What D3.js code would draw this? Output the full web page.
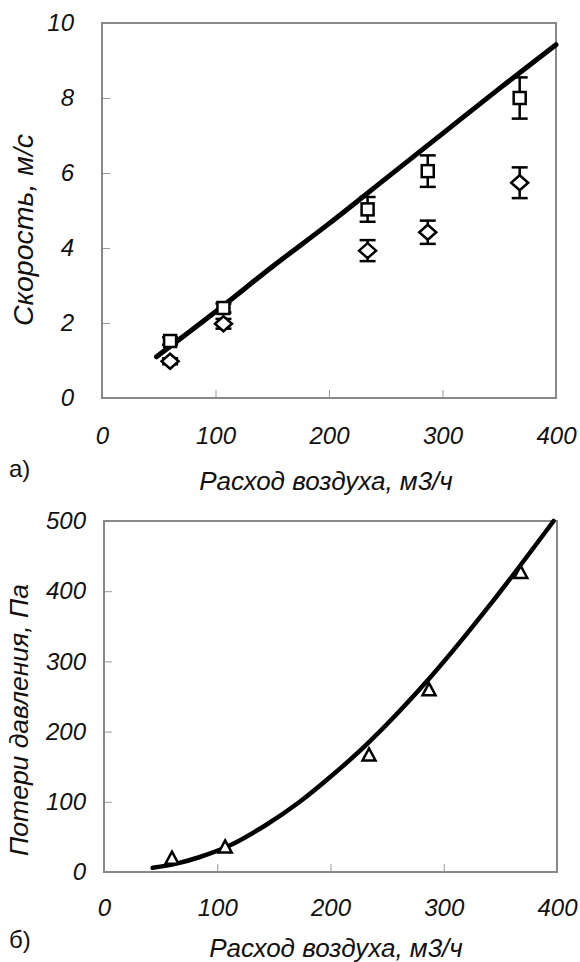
<!DOCTYPE html>
<html>
<head>
<meta charset="utf-8">
<script src="https://cdn.jsdelivr.net/npm/d3@7"></script>
<style>
  body { margin: 0; background: #fff; }
  text { font-family: "Liberation Sans", Arial, sans-serif; }
</style>
</head>
<body>
<div id="chart"></div>
<script>
// measured points (same air flow for both panels)
var flow = [60, 107, 234, 287, 368];

// panel a: speed
var speedSquare = [1.52, 2.4, 5.03, 6.05, 8.0];
var speedSquareErr = [0.1, 0.12, 0.33, 0.42, 0.55];
var speedDiamond = [0.98, 1.98, 3.93, 4.42, 5.74];
var speedDiamondErr = [0.08, 0.13, 0.28, 0.31, 0.41];
var speedLineX = [48, 100, 150, 200, 250, 300, 350, 400];
var speedLineY = [1.1, 2.3, 3.5, 4.65, 5.85, 7.05, 8.25, 9.42];

// panel b: pressure loss
var pressure = [19, 35, 166, 259, 426];
var pressLineX = [43, 64, 84, 110, 143, 172, 201, 234, 289, 342, 397];
var pressLineY = [6, 12, 21, 37, 67, 99, 137, 185, 279, 383, 500];

var xTicks = [0, 100, 200, 300, 400];
var speedTicks = [0, 2, 4, 6, 8, 10];
var pressTicks = [0, 100, 200, 300, 400, 500];

var W = 580, H = 962;
var svg = d3.select('#chart').append('svg')
  .attr('width', W).attr('height', H);

function panel(o) {
  var x = d3.scaleLinear().domain([0, 400]).range([o.left, o.right]);
  var y = d3.scaleLinear().domain(o.ydomain).range([o.bottom, o.top]);
  var g = svg.append('g');

  var yAxis = g.append('g')
    .attr('transform', 'translate(' + o.left + ',0)')
    .call(d3.axisLeft(y).tickValues(o.yticks).tickSize(-8).tickPadding(o.ypad));
  var xAxis = g.append('g')
    .attr('transform', 'translate(0,' + o.bottom + ')')
    .call(d3.axisBottom(x).tickValues(xTicks).tickSize(-8).tickPadding(o.xpad));

  [yAxis, xAxis].forEach(function(a) {
    a.select('.domain').remove();
    a.selectAll('line').attr('stroke', '#999').attr('stroke-width', 1);
    a.selectAll('text')
      .attr('fill', '#111')
      .style('font-size', '24px')
      .style('font-style', 'italic');
  });

  g.append('rect')
    .attr('x', o.left).attr('y', o.top)
    .attr('width', o.right - o.left).attr('height', o.bottom - o.top)
    .attr('fill', 'none').attr('stroke', '#888').attr('stroke-width', 2);

  g.append('text')
    .attr('x', o.xtitleX).attr('y', o.xtitleY)
    .attr('text-anchor', 'middle')
    .style('font-size', '26px').style('font-style', 'italic')
    .attr('fill', '#111')
    .text('Расход воздуха, м3/ч');

  g.append('text')
    .attr('transform', 'translate(' + o.ytitleX + ',' + o.ytitleY + ') rotate(-90)')
    .attr('text-anchor', 'middle')
    .style('font-size', o.ytitleSize + 'px').style('font-style', 'italic')
    .attr('fill', '#111')
    .text(o.ytitle);

  g.append('text')
    .attr('x', 9).attr('y', o.letterY)
    .style('font-size', '24px')
    .attr('fill', '#111')
    .text(o.letter);

  return {g: g, x: x, y: y};
}

// ---- panel a
var a = panel({
  left: 102, right: 556, top: 23, bottom: 398,
  ydomain: [0, 10], yticks: speedTicks, ypad: 28, xpad: 29,
  xtitleX: 326, xtitleY: 490,
  ytitle: 'Скорость, м/с', ytitleX: 33, ytitleY: 230, ytitleSize: 28.5,
  letter: 'а)', letterY: 477
});

a.g.append('path')
  .datum(d3.zip(speedLineX, speedLineY))
  .attr('d', d3.line().curve(d3.curveCatmullRom.alpha(0.5))
    .x(function(d) { return a.x(d[0]); })
    .y(function(d) { return a.y(d[1]); }))
  .attr('fill', 'none').attr('stroke', '#000').attr('stroke-width', 5)
  .attr('stroke-linecap', 'round');

function errorBars(p, vals, errs) {
  var eg = p.g.append('g').attr('stroke', '#000').attr('stroke-width', 2.5);
  flow.forEach(function(f, i) {
    var cx = p.x(f), y1 = p.y(vals[i] + errs[i]), y2 = p.y(vals[i] - errs[i]);
    eg.append('line').attr('x1', cx).attr('x2', cx).attr('y1', y1).attr('y2', y2);
    eg.append('line').attr('x1', cx - 8).attr('x2', cx + 8).attr('y1', y1).attr('y2', y1);
    eg.append('line').attr('x1', cx - 8).attr('x2', cx + 8).attr('y1', y2).attr('y2', y2);
  });
}

errorBars(a, speedDiamond, speedDiamondErr);
errorBars(a, speedSquare, speedSquareErr);

a.g.selectAll('.diamond')
  .data(d3.zip(flow, speedDiamond))
  .enter().append('path')
  .attr('d', 'M0,-7.5L8.5,0L0,7.5L-8.5,0Z')
  .attr('transform', function(d) { return 'translate(' + a.x(d[0]) + ',' + a.y(d[1]) + ')'; })
  .attr('fill', '#fff').attr('stroke', '#000').attr('stroke-width', 2.5);

a.g.selectAll('.square')
  .data(d3.zip(flow, speedSquare))
  .enter().append('rect')
  .attr('x', function(d) { return a.x(d[0]) - 6; })
  .attr('y', function(d) { return a.y(d[1]) - 6; })
  .attr('width', 12).attr('height', 12)
  .attr('fill', '#fff').attr('stroke', '#000').attr('stroke-width', 2.5);

// ---- panel b
var b = panel({
  left: 104, right: 557, top: 521, bottom: 872,
  ydomain: [0, 500], yticks: pressTicks, ypad: 18, xpad: 27,
  xtitleX: 336, xtitleY: 957,
  ytitle: 'Потери давления, Па', ytitleX: 28, ytitleY: 720, ytitleSize: 26.5,
  letter: 'б)', letterY: 948
});

b.g.append('path')
  .datum(d3.zip(pressLineX, pressLineY))
  .attr('d', d3.line().curve(d3.curveCatmullRom.alpha(0.5))
    .x(function(d) { return b.x(d[0]); })
    .y(function(d) { return b.y(d[1]); }))
  .attr('fill', 'none').attr('stroke', '#000').attr('stroke-width', 4.5)
  .attr('stroke-linecap', 'round');

b.g.selectAll('.tri')
  .data(d3.zip(flow, pressure))
  .enter().append('path')
  .attr('d', 'M0,-7L6.5,5L-6.5,5Z')
  .attr('transform', function(d) { return 'translate(' + b.x(d[0]) + ',' + b.y(d[1]) + ')'; })
  .attr('fill', '#fff').attr('stroke', '#000').attr('stroke-width', 2.5);
</script>
</body>
</html>
